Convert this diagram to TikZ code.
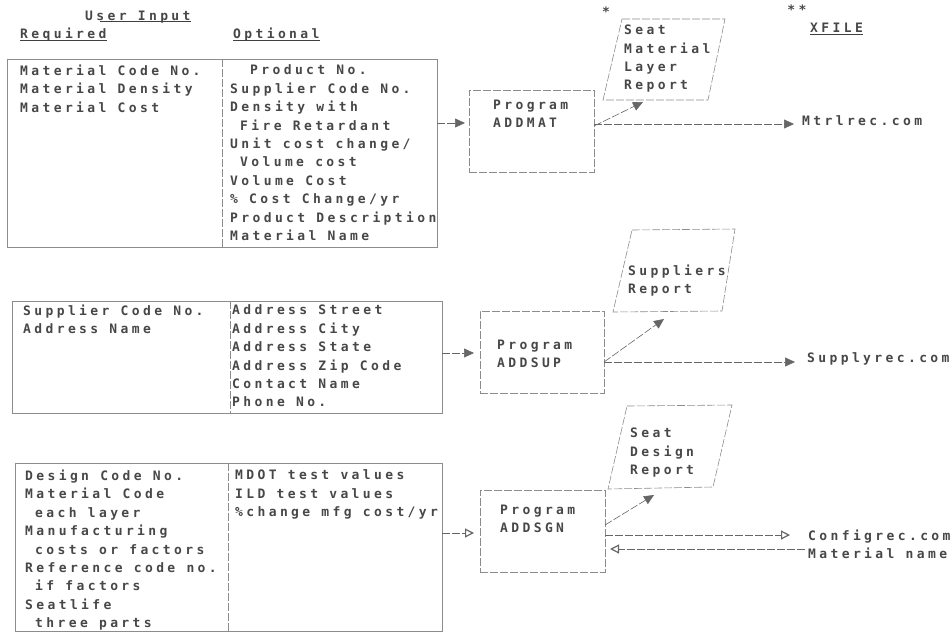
\documentclass[tikz,border=0pt]{standalone}
\usepackage{fontspec}
\usetikzlibrary{arrows.meta,calc}
\newfontfamily\dotfont[LetterSpace=26]{DejaVu Sans Mono}
\begin{document}
\begin{tikzpicture}[x=1pt,y=-1pt,
  txt/.style={font=\dotfont\bfseries\fontsize{13}{18.4}\selectfont, text=black!72, inner sep=0pt, align=left},
  ln/.style={draw=black!45, line width=0.6pt},
  dsh/.style={ln, dash pattern=on 8pt off 2pt},
  ulin/.style={draw=black!75, line width=0.9pt},
  boxn/.style={ln, inner sep=0pt, anchor=north west},
  fa/.style={dsh, -{Triangle[length=10pt,width=9pt]}, black!60},
  oa/.style={dsh, -{Triangle[open,length=9pt,width=9pt,line width=1.2pt]}, black!60},
]
\useasboundingbox (0,0) rectangle (952,632);

% ---------- headers ----------
\node[txt, anchor=west] (userin) at (85,17) {User Input};
\draw[ulin] ([xshift=15pt,yshift=-1.5pt]userin.base west) -- ([yshift=-1.5pt]userin.base east);
\node[txt, anchor=west] (req) at (20,35) {Required};
\draw[ulin] ([yshift=-1.5pt]req.base west) -- ([yshift=-1.5pt]req.base east);
\node[txt, anchor=west] (opt) at (233,35) {Optional};
\draw[ulin] ([yshift=-1.5pt]opt.base west) -- ([yshift=-1.5pt]opt.base east);
\node[txt, anchor=center] (star1) at (606,12) {*};
\node[txt, anchor=center] (star2) at (797,10) {**};
\node[txt, anchor=west] (xfile) at (810,28) {XFILE};
\draw[ulin] ([yshift=-1.5pt]xfile.base west) -- ([yshift=-1.5pt]xfile.base east);

% ---------- input boxes ----------
\node[boxn, minimum width=430pt, minimum height=188pt] (box1) at (7,59) {};
\draw[dsh] (222,59) -- (222,247);
\node[txt, anchor=north west] (b1l) at (20,64.8) {Material Code No.\\Material Density\\Material Cost};
\node[txt, anchor=north west] (b1r) at (230,64.8) {\hspace*{20pt}Product No.\\Supplier Code No.\\Density with\\\hspace*{10pt}Fire Retardant\\Unit cost change/\\\hspace*{10pt}Volume cost\\Volume Cost\\\% Cost Change/yr\\Product Description\\Material Name};

\node[boxn, minimum width=430pt, minimum height=112pt] (box2) at (12,301) {};
\draw[dsh] (230,301) -- (230,413);
\node[txt, anchor=north west] (b2l) at (23,304.8) {Supplier Code No.\\Address Name};
\node[txt, anchor=north west] (b2r) at (232,304.8) {Address Street\\Address City\\Address State\\Address Zip Code\\Contact Name\\Phone No.};

\node[boxn, minimum width=427pt, minimum height=168pt] (box3) at (15,463) {};
\draw[dsh] (228,463) -- (228,631);
\node[txt, anchor=north west] (b3l) at (25,469.8) {Design Code No.\\Material Code\\\hspace*{10pt}each layer\\Manufacturing\\\hspace*{10pt}costs or factors\\Reference code no.\\\hspace*{10pt}if factors\\Seatlife\\\hspace*{10pt}three parts};
\node[txt, anchor=north west] (b3r) at (235,469.8) {MDOT test values\\ILD test values\\\%change mfg cost/yr};

% ---------- program boxes ----------
\node[boxn, dsh, minimum width=125pt, minimum height=82pt] (addmat) at (469,90) {};
\node[txt, anchor=north west] (addmatT) at (493,99.8) {Program\\ADDMAT};
\node[boxn, dsh, minimum width=124pt, minimum height=82pt] (addsup) at (480,311) {};
\node[txt, anchor=north west] (addsupT) at (497,339.8) {Program\\ADDSUP};
\node[boxn, dsh, minimum width=125pt, minimum height=82pt] (addsgn) at (480,490) {};
\node[txt, anchor=north west] (addsgnT) at (500,504.8) {Program\\ADDSGN};

% ---------- reports ----------
\draw[dsh] (622,19) -- (725,19) -- (708,100) -- (603,100) -- cycle;
\node[txt, anchor=north west] (rep1) at (624,24.8) {Seat\\Material\\Layer\\Report};
\draw[dsh] (632,230) -- (735,229) -- (722,311) -- (613,312) -- cycle;
\node[txt, anchor=north west] (rep2) at (628,264.8) {Suppliers\\Report};
\draw[dsh] (627,406) -- (732,405) -- (713,487) -- (608,489) -- cycle;
\node[txt, anchor=north west] (rep3) at (630,427.8) {Seat\\Design\\Report};

% ---------- outputs ----------
\node[txt, anchor=west] (mtrl) at (802,121) {Mtrlrec.com};
\node[txt, anchor=west] (supply) at (807,359) {Supplyrec.com};
\node[txt, anchor=north west] (config) at (808,529.8) {Configrec.com\\Material name};

% ---------- connector end points ----------
\coordinate (b1out) at (437,123);
\coordinate (m1in) at (465,123);
\coordinate (m1a) at (594,126);
\coordinate (r1in) at (643,102);
\coordinate (m1b) at (594,124);
\coordinate (mtrlin) at (794,124);
\coordinate (b2out) at (442,353);
\coordinate (m2in) at (474,353);
\coordinate (m2a) at (604,362);
\coordinate (r2in) at (664,319);
\coordinate (supin) at (795,362);
\coordinate (b3out) at (442,533);
\coordinate (m3in) at (474,533);
\coordinate (m3a) at (605,525);
\coordinate (r3in) at (654,495);
\coordinate (m3b) at (605,535);
\coordinate (cfgin) at (790,535);
\coordinate (cfgout) at (805,549);
\coordinate (m3ret) at (610,549);

\draw[fa] (b1out) -- (m1in);
\draw[fa] (m1a) -- (r1in);
\draw[fa] (m1b) -- (mtrlin);
\draw[fa] (b2out) -- (m2in);
\draw[fa] (m2a) -- (r2in);
\draw[fa] (m2a) -- (supin);
\draw[oa] (b3out) -- (m3in);
\draw[fa] (m3a) -- (r3in);
\draw[oa] (m3b) -- (cfgin);
\draw[oa] (cfgout) -- (m3ret);
\end{tikzpicture}
\end{document}
